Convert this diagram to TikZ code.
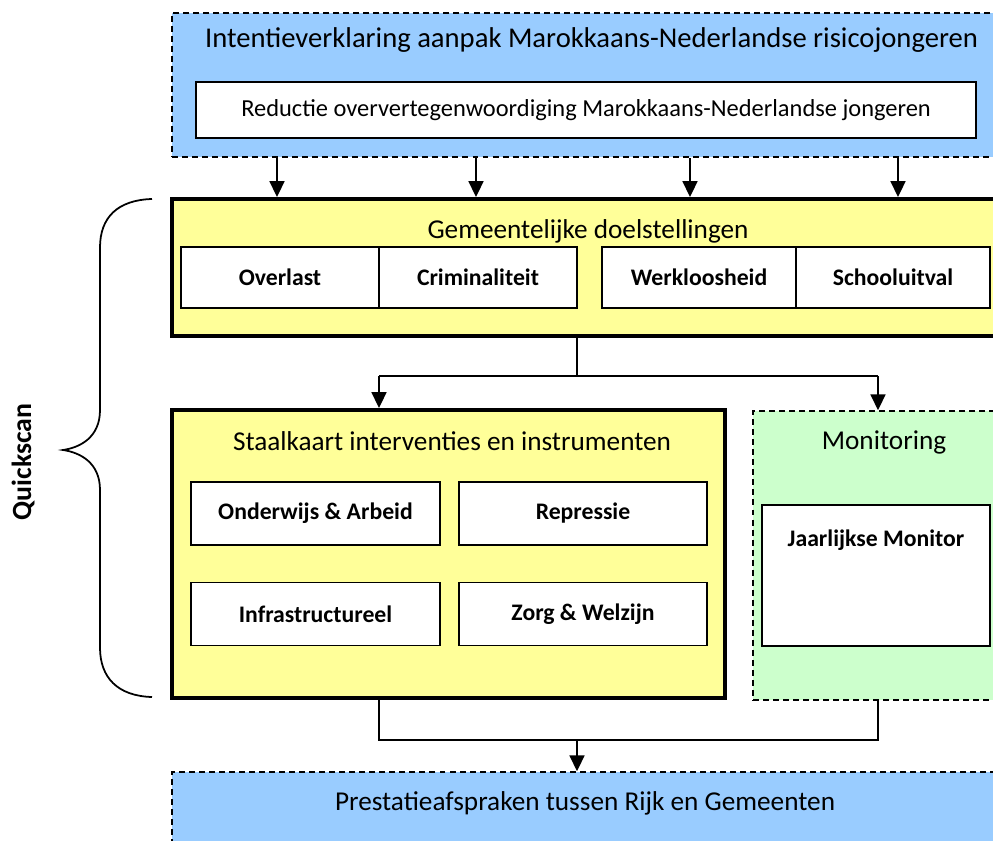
\documentclass[tikz,border=0pt]{standalone}
\usepackage{fontspec}
\setmainfont{Carlito}
\usetikzlibrary{arrows.meta, positioning, calc}

\definecolor{blauw}{HTML}{99CCFF}
\definecolor{geel}{HTML}{FFFF99}
\definecolor{groen}{HTML}{CCFFCC}

\tikzset{
  kader/.style={draw, dashed, dash pattern=on 3.4pt off 2.3pt, line width=0.9pt, inner sep=0pt},
  blok/.style={draw, line width=2.3pt, fill=geel, inner sep=0pt},
  vak/.style={draw, line width=1pt, fill=white, inner sep=0pt,
              font=\fontsize{13.5}{16}\selectfont\bfseries},
  kop/.style={font=\fontsize{15.5}{19}\selectfont, inner sep=0pt},
  pijl/.style={line width=1.1pt, -{Triangle[length=9pt, width=8.5pt]}},
  lijn/.style={line width=1.1pt}
}

\begin{document}
\begin{tikzpicture}
  \useasboundingbox (0,0) rectangle (19.86,-16.8);
  \clip (0,0) rectangle (19.86,-16.8);

  % intentieverklaring
  \node[kader, fill=blauw, minimum width=16.76cm, minimum height=2.88cm]
        (intentie) at (11.82,-1.7) {};
  \node[kop, font=\fontsize{16.3}{20}\selectfont] (intentiekop) at (11.83,-0.8)
        {Intentieverklaring aanpak Marokkaans-Nederlandse risicojongeren};
  \node[draw, line width=1pt, fill=white, minimum width=15.6cm, minimum height=1.12cm,
        font=\fontsize{13.9}{17}\selectfont] (reductie) at (11.72,-2.2)
        {Reductie oververtegenwoordiging Marokkaans-Nederlandse jongeren};

  % gemeentelijke doelstellingen
  \node[blok, minimum width=16.76cm, minimum height=2.74cm] (doel) at (11.82,-5.35) {};
  \node[kop] (doelkop) at (11.76,-4.62) {Gemeentelijke doelstellingen};
  \node[vak, minimum width=3.96cm, minimum height=1.22cm] (overlast) at (5.6,-5.55) {Overlast};
  \node[vak, minimum width=3.96cm, minimum height=1.22cm] (crimi) at (9.56,-5.55) {Criminaliteit};
  \node[vak, minimum width=3.88cm, minimum height=1.22cm] (werk) at (13.98,-5.55) {Werkloosheid};
  \node[vak, minimum width=3.88cm, minimum height=1.22cm] (school) at (17.86,-5.55) {Schooluitval};

  \foreach \x in {5.54, 9.52, 13.8, 17.96}
    \draw[pijl] (\x,0 |- intentie.south) -- (\x,0 |- doel.north);

  % staalkaart
  \node[blok, minimum width=11.06cm, minimum height=5.76cm] (staal) at (8.97,-11.08) {};
  \node[kop] (staalkop) at (9.04,-8.82) {Staalkaart interventies en instrumenten};
  \node[vak, minimum width=4.98cm, minimum height=1.26cm] (onderwijs) at (6.31,-10.27) {Onderwijs \& Arbeid};
  \node[vak, minimum width=4.96cm, minimum height=1.26cm] (repressie) at (11.66,-10.27) {Repressie};
  \node[vak, minimum width=4.98cm, minimum height=1.26cm] (infra) at (6.31,-12.28) {Infrastructureel};
  \node[vak, minimum width=4.96cm, minimum height=1.26cm] (zorg) at (11.66,-12.28) {Zorg \& Welzijn};

  % monitoring
  \node[kader, fill=groen, minimum width=5.24cm, minimum height=5.78cm] (monitor) at (17.68,-11.11) {};
  \node[kop] (monitorkop) at (17.68,-8.84) {Monitoring};
  \node[vak, minimum width=4.56cm, minimum height=2.82cm] (jaarlijks) at (17.52,-11.51) {};
  \node[font=\fontsize{13.5}{16}\selectfont\bfseries, inner sep=0pt] (jaarkop) at (17.52,-10.8) {Jaarlijkse Monitor};

  % verbindingen
  \coordinate (splits) at (11.54,-7.52);
  \draw[lijn] (splits |- doel.south) -- (splits);
  \draw[lijn] (7.58,0 |- splits) -- (17.56,0 |- splits);
  \draw[pijl] (7.58,0 |- splits) -- (7.58,0 |- staal.north);
  \draw[pijl] (17.56,0 |- splits) -- (17.56,0 |- monitor.north);

  % prestatieafspraken
  \node[kader, fill=blauw, minimum width=16.76cm, minimum height=2.4cm] (presta) at (11.82,-16.64) {};
  \node[kop] (prestakop) at (11.7,-16.06) {Prestatieafspraken tussen Rijk en Gemeenten};

  \coordinate (samen) at (11.54,-14.8);
  \draw[lijn] (7.58,0 |- staal.south) -- (7.58,0 |- samen) -- (17.56,0 |- samen) -- (17.56,0 |- monitor.south);
  \draw[pijl] (samen) -- (samen |- presta.north);

  % accolade quickscan
  \draw[line width=1pt] (3.04,-3.98) .. controls (2.35,-4.0) and (2.0,-4.35) .. (2.0,-4.95)
    -- (2.0,-8.2) .. controls (2.0,-8.75) and (1.6,-8.95) .. (1.26,-9.0)
    .. controls (1.6,-9.05) and (2.0,-9.25) .. (2.0,-9.8)
    -- (2.0,-12.95) .. controls (2.0,-13.55) and (2.35,-13.92) .. (3.04,-13.94);
  \node[rotate=90, font=\fontsize{15.8}{18}\selectfont\bfseries, inner sep=0pt] (quickscan) at (0.46,-9.24) {Quickscan};
\end{tikzpicture}
\end{document}
